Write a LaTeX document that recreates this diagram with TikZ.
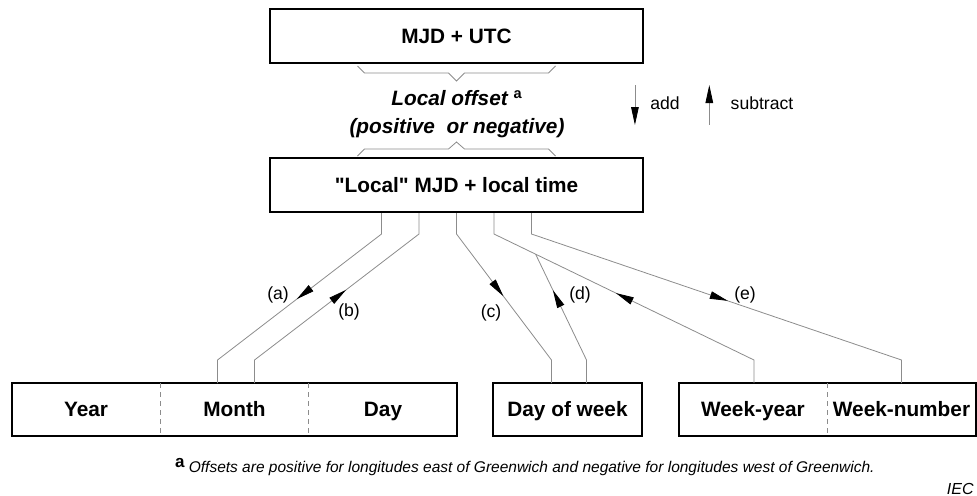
\documentclass[tikz,border=0pt]{standalone}
\usepackage{fontspec}
\setmainfont{Liberation Sans}[Ligatures=TeXOff]
\usetikzlibrary{positioning,arrows.meta,fit,calc,decorations.markings}

\begin{document}
\begin{tikzpicture}[x=0.5pt,y=-0.5pt,font=\fontsize{10.4}{12}\selectfont,
  >={Triangle[length=9pt,width=3.8pt,color=black]},
  box/.style={rectangle,draw=black,line width=1pt,minimum width=186.5pt,minimum height=27pt,inner sep=0pt,text height=7.45pt,text depth=0pt,font=\fontsize{10.4}{12}\selectfont\bfseries},
  cell/.style={rectangle,minimum width=74.25pt,minimum height=26.5pt,inner sep=0pt,outer sep=0pt,text height=7.45pt,text depth=0pt,font=\fontsize{10.4}{12}\selectfont\bfseries},
  frame/.style={rectangle,draw=black,line width=1pt,inner sep=0pt},
  sep/.style={draw=black!45,line width=0.4pt,dash pattern=on 2.5pt off 2pt},
  ln/.style={draw=black!45,line width=0.4pt},
  lbl/.style={font=\fontsize{8.8}{10}\selectfont,inner sep=1pt},
  fwd/.style={ln,postaction={decorate},decoration={markings,mark=at position #1 with {\arrow{>}}}},
  bwd/.style={ln,postaction={decorate},decoration={markings,mark=at position #1 with {\arrowreversed{>}}}}]
\useasboundingbox (0,0) rectangle (977,495);
% upper part
\node[box](utc) at (456.5,36){MJD + UTC};
\node[box](local) at (456.5,185){"Local" MJD + local time};
\node[font=\fontsize{10.4}{14}\selectfont\bfseries\itshape,align=center](offset) at (457,114)
  {Local offset \textsuperscript{\upshape a}\\(positive~ or negative)};
\draw[ln] ($(utc.south)+(-99,2)$) -- ++(7,7) -- ++(84,0) -- ++(8,8) -- ++(8,-8) -- ++(84,0) -- ++(7,-7);
\draw[ln] ($(local.north)+(-99,-1)$) -- ++(7,-7) -- ++(84,0) -- ++(8,-7) -- ++(8,7) -- ++(84,0) -- ++(7,7);
\node[lbl](add) at (665,103){add};
\node[lbl](sub) at (762,103){subtract};
\draw[->,ln] ($(add.west)+(-13,-18)$) -- ++(0,40);
\draw[<-,ln] ($(sub.west)+(-19,-18)$) -- ++(0,40);
% lower boxes
\node[cell](year) at (86,409.5){Year};
\node[cell,right=0pt of year](month){Month};
\node[cell,right=0pt of month](day){Day};
\node[cell,frame,right=18pt of day](dow){Day of week};
\node[cell,right=18.5pt of dow](wy){Week-year};
\node[cell,right=0pt of wy](wn){Week-number};
\node[frame,fit=(year)(month)(day)](ymd){};
\node[frame,fit=(wy)(wn)](week){};
\draw[sep](year.north east) -- (year.south east);
\draw[sep](month.north east) -- (month.south east);
\draw[sep](wy.north east) -- (wy.south east);
% connectors
\draw[fwd=0.51] ($(local.south)+(-75,0)$) -- ++(0,21) -- ($(month.north)+(-17,-23)$) -- ++(0,23);
\draw[bwd=0.45] ($(local.south)+(-37.5,0)$) -- ++(0,21) -- ($(month.north)+(20,-23)$) -- ++(0,23);
\draw[fwd=0.49] (local.south) -- ++(0,21) -- ($(dow.north)+(-16,-23)$) -- ++(0,23);
\draw[bwd=0.47] ($(local.south)+(37.5,0)$) -- ++(0,21) coordinate(wyA) -- ($(wy.north)+(1,-23)$) coordinate(wyB) -- ++(0,23);
\coordinate(dbranch) at ($(wyA)!0.16!(wyB)$);
\draw[bwd=0.285] (dbranch) -- ($(dow.north)+(19,-23)$) -- ++(0,23);
\draw[fwd=0.525] ($(local.south)+(75,0)$) -- ++(0,21) -- ($(wn.north)+(0,-23)$) -- ++(0,23);
\node[lbl](la) at (278,295){(a)};
\node[lbl](lb) at (349,312){(b)};
\node[lbl](lc) at (491,313){(c)};
\node[lbl](ld) at (580,295){(d)};
\node[lbl](le) at (745,295){(e)};
% footnote
\node[anchor=west,font=\fontsize{7.75}{9}\selectfont\itshape](note) at (168,467)
  {{\upshape\bfseries\fontsize{8.5}{9}\selectfont\raisebox{2.5pt}{a}}\ Offsets are positive for longitudes east of Greenwich and negative for longitudes west of Greenwich.};
\node[anchor=east,font=\fontsize{8}{9}\selectfont\itshape,inner sep=1pt](iec) at (976,489){IEC};
\end{tikzpicture}
\end{document}
